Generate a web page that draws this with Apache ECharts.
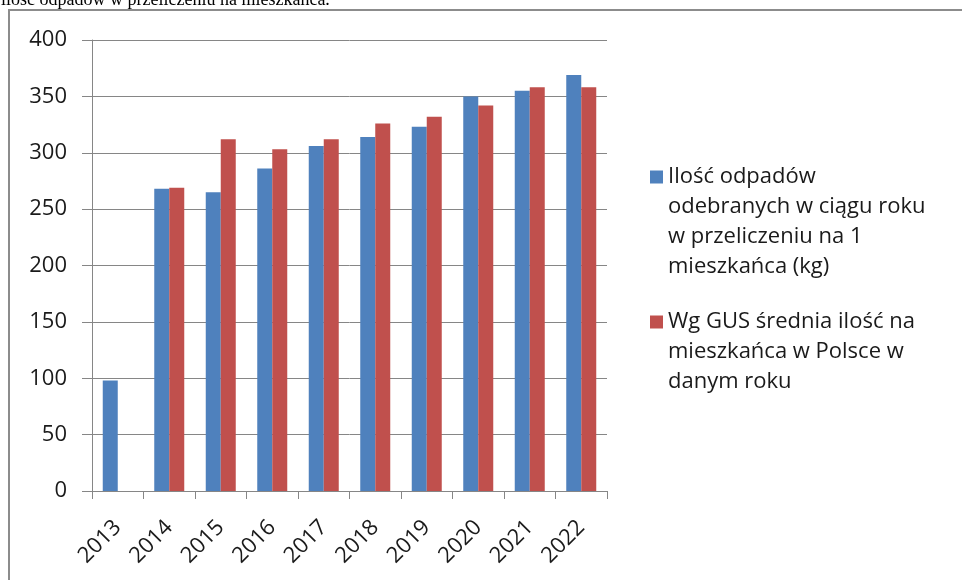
<!DOCTYPE html>
<html>
<head>
<meta charset="utf-8">
<script src="https://cdn.jsdelivr.net/npm/echarts@6/dist/echarts.min.js"></script>
<style>
  html, body { margin: 0; padding: 0; background: #fff; }
  #chart { width: 962px; height: 580px; }
</style>
</head>
<body>
<div id="chart"></div>
<script>
const years = ['2013', '2014', '2015', '2016', '2017', '2018', '2019', '2020', '2021', '2022'];
const seriesNames = [
  'Ilość odpadów odebranych w ciągu roku w przeliczeniu na 1 mieszkańca (kg)',
  'Wg GUS średnia ilość na mieszkańca w Polsce w danym roku'
];
const legendLines = [
  ['Ilość odpadów', 'odebranych w ciągu roku', 'w przeliczeniu na 1', 'mieszkańca (kg)'],
  ['Wg GUS średnia ilość na', 'mieszkańca w Polsce w', 'danym roku']
];
const localWaste = [98, 268, 265, 286, 306, 314, 323, 350, 355, 369];
const gusAverage = [null, 269, 312, 303, 312, 326, 332, 342, 358, 358];
const yTicks = { min: 0, max: 400, interval: 50 };
const captionText = 'ilość odpadów w przeliczeniu na mieszkańca.';

const chart = echarts.init(document.getElementById('chart'));
const FONT = '"Open Sans", sans-serif';
const GRAY = '#868686';

function legendText(name) {
  const idx = seriesNames.indexOf(name);
  const lines = legendLines[idx];
  // pad blank lines above so the icon aligns with the first line
  const pad = new Array(lines.length - 1).fill('');
  return pad.concat(lines).join('\n');
}

chart.setOption({
  animation: false,
  backgroundColor: '#fff',
  graphic: [
    {
      type: 'text',
      left: 1,
      top: -9,
      style: { text: captionText, font: '18px "Liberation Serif", serif', fill: '#000' }
    },
    {
      type: 'rect',
      shape: { x: 9, y: 10, width: 1000, height: 620 },
      style: { fill: 'none', stroke: '#8c8c8c', lineWidth: 2 },
      silent: true
    }
  ],
  grid: { left: 92, right: 355, top: 40, bottom: 89, containLabel: false },
  legend: {
    orient: 'vertical',
    left: 650,
    top: 72,
    padding: 0,
    itemGap: -35,
    itemWidth: 13,
    itemHeight: 13,
    icon: 'rect',
    formatter: legendText,
    textStyle: { fontFamily: FONT, fontSize: 22, lineHeight: 30, color: '#1a1a1a' },
    data: seriesNames
  },
  xAxis: {
    type: 'category',
    data: years,
    axisLine: { lineStyle: { color: GRAY, width: 1 } },
    axisTick: { show: true, length: 8, lineStyle: { color: GRAY } },
    axisLabel: { rotate: 45, margin: 33, fontFamily: FONT, fontSize: 22, color: '#1a1a1a' }
  },
  yAxis: {
    type: 'value',
    min: yTicks.min,
    max: yTicks.max,
    interval: yTicks.interval,
    axisLine: { show: true, lineStyle: { color: GRAY, width: 1 } },
    axisTick: { show: true, length: 10, lineStyle: { color: GRAY } },
    splitLine: { show: true, lineStyle: { color: GRAY, width: 1 } },
    axisLabel: { margin: 25, fontFamily: FONT, fontSize: 22, color: '#1a1a1a' }
  },
  series: [
    {
      name: seriesNames[0],
      type: 'bar',
      data: localWaste,
      barWidth: 15,
      barGap: '0%',
      itemStyle: { color: '#4F81BD' }
    },
    {
      name: seriesNames[1],
      type: 'bar',
      data: gusAverage,
      barWidth: 15,
      barGap: '0%',
      itemStyle: { color: '#C0504D' }
    }
  ]
});
</script>
</body>
</html>
